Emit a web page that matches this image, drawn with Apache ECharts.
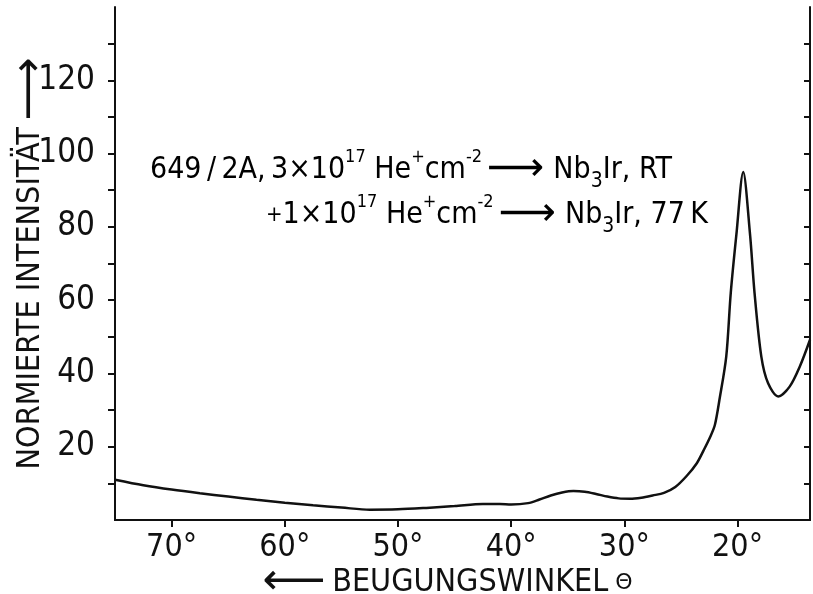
<!DOCTYPE html>
<html>
<head>
<meta charset="utf-8">
<script src="https://cdn.jsdelivr.net/npm/echarts@6/dist/echarts.min.js"></script>
<style>
html,body{margin:0;padding:0;background:#fff;}
#c{width:813px;height:594px;}
</style>
</head>
<body>
<div id="c"></div>
<script>
// Diffraction angle (degrees) and normalised intensity
const angle = [75, 72.5, 70, 67.5, 65, 62.5, 60, 57.5, 55, 52.5, 50, 47.5, 45, 42.5, 41, 40, 38.5, 37.5, 36.5, 35.5, 34.5, 33.5, 32.5, 31.5, 30.5, 29.5, 28.5, 27.5, 26.5, 25.5, 24.5, 23.6, 23, 22.4, 22, 21.6, 21, 20.6, 20.1, 19.5, 18.9, 18.5, 17.9, 17.3, 16.4, 15.4, 14.5, 13.6];
const intensity = [11, 9.5, 8.3, 7.3, 6.4, 5.5, 4.7, 4.0, 3.4, 2.8, 2.9, 3.3, 3.8, 4.4, 4.4, 4.2, 4.6, 5.6, 6.7, 7.5, 7.9, 7.7, 7.1, 6.4, 5.9, 5.8, 6.1, 6.7, 7.4, 9.0, 12.0, 15.5, 19, 22.8, 26, 32.8, 44.6, 62, 78, 95, 78, 62, 44.6, 37.3, 33.7, 36.4, 41.9, 49.2];
const xTicks = [20, 30, 40, 50, 60, 70];
const yTickLabels = [20, 40, 60, 80, 100, 120];
const yMinorTicks = [10, 20, 30, 40, 50, 60, 70, 80, 90, 100, 110, 120, 130];
const xRange = [13.6, 75];
const yRange = [0, 140];

const FONT = '"Liberation Sans Narrow", "DejaVu Sans Condensed", "Roboto Condensed", sans-serif';
const INK = '#111';

const chart = echarts.init(document.getElementById('c'), null, {renderer: 'canvas'});
const data = angle.map((a, i) => [a, intensity[i]]);

const axisLineStyle = {show: true, lineStyle: {color: INK, width: 2}};
const annRich = {
  n: {fontFamily: FONT, fontSize: 30, color: INK, lineHeight: 44},
  p: {fontFamily: FONT, fontSize: 22, color: INK, lineHeight: 44},
  sup: {fontFamily: FONT, fontSize: 18, color: INK, lineHeight: 44, verticalAlign: 'top', padding: [0, 0, 16, 0]},
  sub: {fontFamily: FONT, fontSize: 21, color: INK, lineHeight: 44, verticalAlign: 'bottom', padding: [8, 0, 0, 0]},
  ar: {fontFamily: 'DejaVu Sans', fontSize: 40, color: INK, lineHeight: 44, padding: [0, 9, 0, 5]}
};

const option = {
  backgroundColor: '#fff',
  animation: false,
  grid: {left: 115, right: 3, top: 7, bottom: 74, containLabel: false, outerBoundsMode: 'none'},
  xAxis: [
    {
      type: 'value', min: xRange[0], max: xRange[1], inverse: true, position: 'bottom',
      axisLine: axisLineStyle,
      axisTick: {show: true, inside: false, length: 7, customValues: xTicks, lineStyle: {color: INK, width: 2}},
      axisLabel: {show: true, customValues: xTicks, formatter: v => v + '°', margin: 12,
        fontFamily: FONT, fontSize: 32, color: INK},
      splitLine: {show: false},
      name: '{a|⟵}  {b|BEUGUNGSWINKEL}{c| Θ}',
      nameLocation: 'middle', nameGap: 41, nameMoveOverlap: false,
      nameTextStyle: {
        padding: [0, 30, 0, 0],
        rich: {
          a: {fontFamily: 'DejaVu Sans', fontSize: 44, color: INK},
          b: {fontFamily: FONT, fontSize: 32, color: INK},
          c: {fontFamily: 'DejaVu Sans', fontSize: 22, color: INK}
        }
      }
    },
    {
      type: 'value', min: xRange[0], max: xRange[1], inverse: true, position: 'top',
      axisLine: axisLineStyle,
      axisTick: {show: true, inside: true, length: 6, customValues: xTicks, lineStyle: {color: INK, width: 2}},
      axisLabel: {show: false}, splitLine: {show: false}
    }
  ],
  yAxis: [
    {
      type: 'value', min: yRange[0], max: yRange[1], position: 'left',
      axisLine: axisLineStyle,
      axisTick: {show: true, inside: false, length: 7, customValues: yMinorTicks, lineStyle: {color: INK, width: 2}},
      axisLabel: {show: true, customValues: yTickLabels, margin: 20, fontFamily: FONT, fontSize: 33, color: INK},
      splitLine: {show: false},
      name: '{t|NORMIERTE INTENSITÄT}  {a|⟶}',
      nameLocation: 'middle', nameRotate: 90, nameGap: 62, nameMoveOverlap: false,
      nameTextStyle: {
        rich: {
          t: {fontFamily: FONT, fontSize: 32, color: INK},
          a: {fontFamily: 'DejaVu Sans', fontSize: 44, color: INK}
        }
      }
    },
    {
      type: 'value', min: yRange[0], max: yRange[1], position: 'right',
      axisLine: axisLineStyle,
      axisTick: {show: true, inside: true, length: 6, customValues: yMinorTicks, lineStyle: {color: INK, width: 2}},
      axisLabel: {show: false}, splitLine: {show: false}
    }
  ],
  graphic: [
    {
      type: 'text', left: 150, top: 148, z: 10,
      style: {
        text: '{n|649\u2009/\u20092A,\u20093×10}{sup|17}{n| He}{sup|+}{n|cm}{sup|-2}{ar|⟶}{n|Nb}{sub|3}{n|Ir, RT}',
        rich: annRich
      }
    },
    {
      type: 'text', left: 266, top: 193, z: 10,
      style: {
        text: '{p|+}{n|1×10}{sup|17}{n| He}{sup|+}{n|cm}{sup|-2}{ar|⟶}{n|Nb}{sub|3}{n|Ir, 77\u2009K}',
        rich: annRich
      }
    }
  ],
  series: [
    {
      type: 'line', xAxisIndex: 0, yAxisIndex: 0,
      data: data, showSymbol: false, symbol: 'none',
      smooth: 0.3,
      lineStyle: {color: INK, width: 2.5}
    }
  ]
};
chart.setOption(option);
</script>
</body>
</html>
